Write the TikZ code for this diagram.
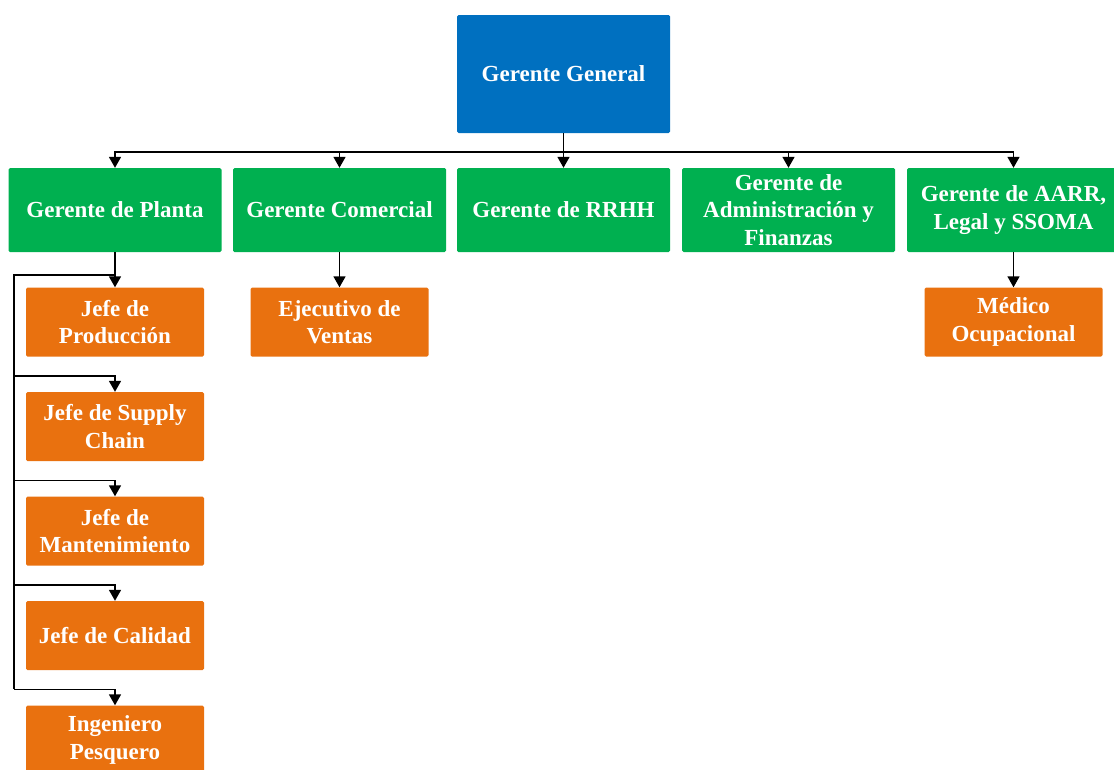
\documentclass[tikz,border=0pt]{standalone}
\usepackage{fontspec}
\setmainfont{Liberation Serif}
\usetikzlibrary{arrows.meta,calc}
\definecolor{gblue}{HTML}{0070C0}
\definecolor{ggreen}{HTML}{00B050}
\definecolor{gorange}{HTML}{E9710F}
\begin{document}
\begin{tikzpicture}[x=1pt,y=-1pt,
  box/.style={rectangle,rounded corners=1.5pt,text=white,align=center,inner sep=2pt,
    font=\fontsize{23}{27.5}\selectfont\bfseries},
  top/.style={box,fill=gblue,minimum width=213pt,minimum height=118pt},
  mgr/.style={box,fill=ggreen,minimum width=213pt,minimum height=84pt},
  sub/.style={box,fill=gorange,minimum width=178pt,minimum height=69pt},
  arr/.style={draw=black,line width=1.6pt,-{Triangle[width=12pt,length=11pt]}},
  ln/.style={draw=black,line width=1.6pt}]
\useasboundingbox (0,0) rectangle (1114,769);
\begin{scope}
\clip (0,0) rectangle (1114,769);
\node[top] (gg) at (563.5,74) {Gerente General};
\node[mgr] (planta) at (115,210) {Gerente de Planta};
\node[mgr] (com) at (339.5,210) {Gerente Comercial};
\node[mgr] (rrhh) at (563.5,210) {Gerente de RRHH};
\node[mgr] (adm) at (788.5,210) {Gerente de\\Administración y\\Finanzas};
\node[mgr] (aarr) at (1013.5,210) {Gerente de AARR,\\Legal y SSOMA};
\node[sub] (prod) at (115,322) {Jefe de\\Producción};
\node[sub] (supply) at (115,426.5) {Jefe de Supply\\Chain};
\node[sub] (mant) at (115,531) {Jefe de\\Mantenimiento};
\node[sub] (cal) at (115,635.5) {Jefe de Calidad};
\node[sub] (ing) at (115,740) {Ingeniero\\Pesquero};
\node[sub] (ventas) at (339.5,322) {Ejecutivo de\\Ventas};
\node[sub] (medico) at (1013.5,322) {Médico\\Ocupacional};
\end{scope}
% top bus
\foreach \n in {planta,com,adm,aarr}
  \draw[arr] (gg.south) -- ++(0,19) -| (\n.north);
\draw[arr] (gg.south) -- (rrhh.north);
% direct reports
\draw[arr] (com.south) -- (ventas.north);
\draw[arr] (aarr.south) -- (medico.north);
\draw[arr] (planta.south) -- (prod.north);
% left spine
\draw[ln] (planta.south) ++(0,23) -| ($(ing.north)+(-101,-16)$);
\foreach \n in {supply,mant,cal,ing}
  \draw[arr] ($(\n.north)+(-101,-16)$) -| (\n.north);
\end{tikzpicture}
\end{document}
